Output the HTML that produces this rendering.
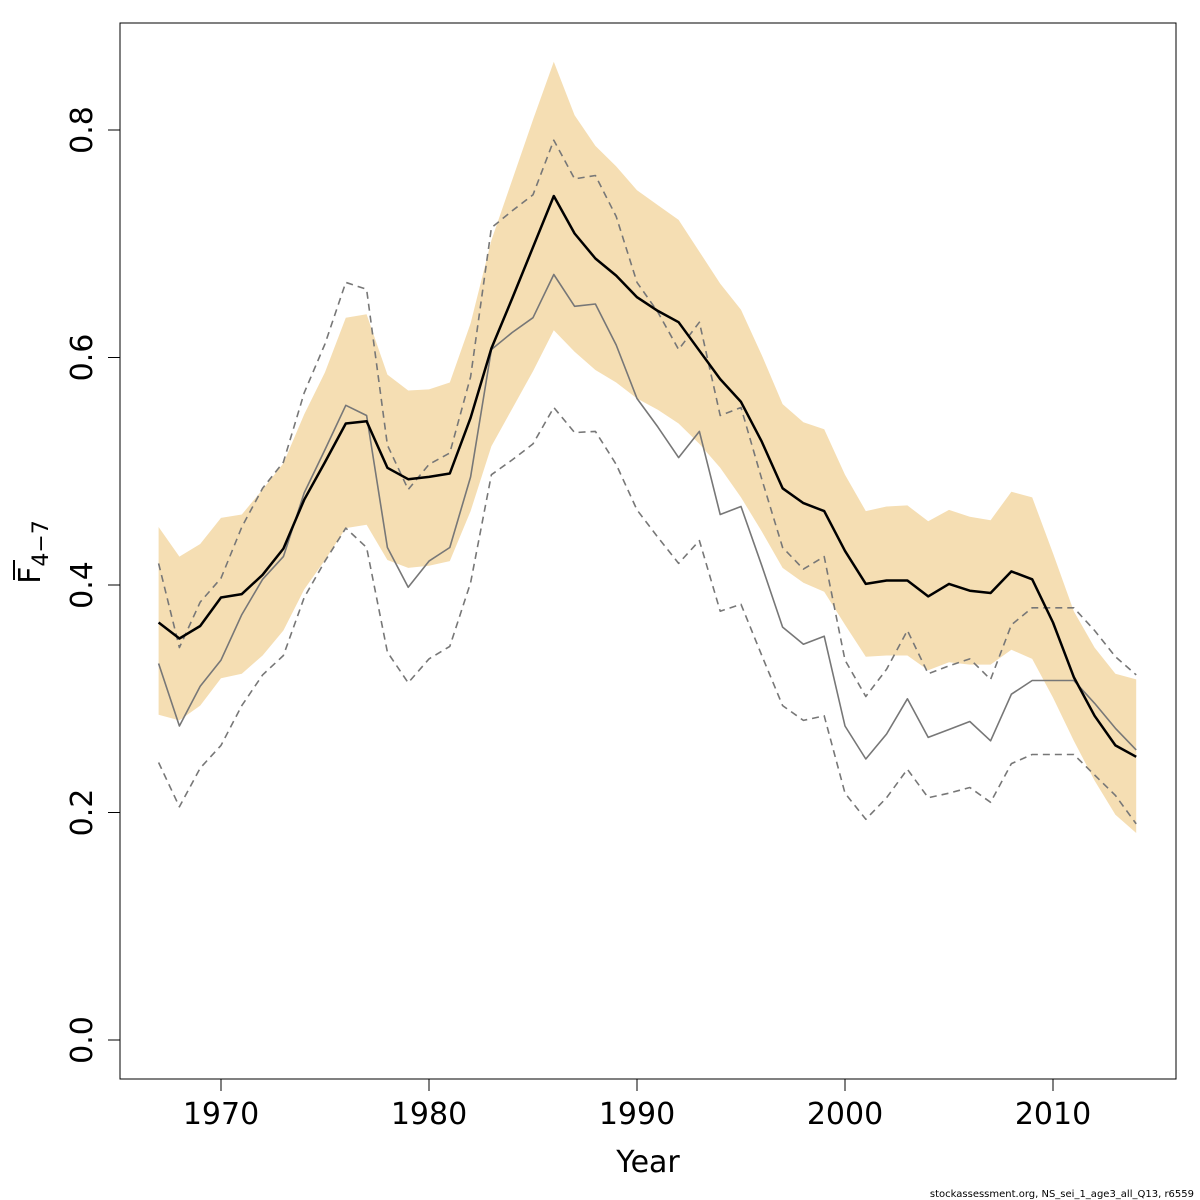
<!DOCTYPE html>
<html><head><meta charset="utf-8">
<style>
html,body{margin:0;padding:0;background:#fff;}
svg{display:block;font-family:"DejaVu Sans","Liberation Sans",sans-serif;}
</style></head>
<body>
<svg id="chart" width="1200" height="1200" viewBox="0 0 1200 1200" xmlns="http://www.w3.org/2000/svg">
<rect x="120" y="23" width="1056" height="1056" fill="none" stroke="#000" stroke-width="1"/>
<g id="band"></g>
<g id="lines"></g>
<g id="axes"></g>
<text x="648" y="1172" font-size="30" text-anchor="middle">Year</text>
<g transform="translate(40,552) rotate(-90)">
<text x="0" y="0" font-size="30" text-anchor="middle">F<tspan font-size="22" dy="8">4−7</tspan></text>
<line x1="-28" y1="-26" x2="-8" y2="-26" stroke="#000" stroke-width="2"/>
</g>
<text x="1194" y="1197" font-size="10" text-anchor="end">stockassessment.org, NS_sei_1_age3_all_Q13, r6559</text>
</svg>
<script>
const years = [];
for (let y = 1967; y <= 2014; y++) years.push(y);
const fbar = [0.367,0.353,0.364,0.389,0.392,0.409,0.432,0.475,0.508,0.542,0.544,0.503,0.493,0.495,0.498,0.547,0.608,0.652,0.697,0.742,0.709,0.687,0.672,0.653,0.641,0.631,0.606,0.581,0.561,0.526,0.485,0.472,0.465,0.430,0.401,0.404,0.404,0.390,0.401,0.395,0.393,0.412,0.405,0.367,0.319,0.285,0.259,0.249];
const bandHigh = [0.451,0.425,0.436,0.459,0.462,0.484,0.507,0.550,0.587,0.635,0.638,0.585,0.571,0.572,0.578,0.630,0.703,0.756,0.809,0.860,0.813,0.786,0.768,0.747,0.734,0.721,0.693,0.665,0.642,0.602,0.559,0.543,0.537,0.497,0.465,0.469,0.470,0.456,0.466,0.460,0.457,0.482,0.477,0.428,0.377,0.345,0.322,0.317];
const bandLow = [0.286,0.281,0.294,0.318,0.322,0.338,0.360,0.396,0.422,0.450,0.453,0.422,0.415,0.417,0.421,0.465,0.522,0.555,0.588,0.624,0.605,0.589,0.578,0.564,0.554,0.542,0.524,0.503,0.477,0.447,0.415,0.402,0.394,0.365,0.337,0.338,0.338,0.325,0.332,0.330,0.330,0.343,0.335,0.301,0.263,0.228,0.198,0.182];
const altFbar = [0.331,0.276,0.311,0.334,0.374,0.405,0.425,0.481,0.519,0.558,0.549,0.433,0.398,0.421,0.433,0.495,0.607,0.622,0.635,0.673,0.645,0.647,0.611,0.564,0.539,0.512,0.535,0.462,0.469,0.417,0.363,0.348,0.355,0.276,0.247,0.269,0.300,0.266,0.273,0.280,0.263,0.304,0.316,0.316,0.316,0.296,0.274,0.255];
const altHigh = [0.419,0.345,0.385,0.406,0.451,0.485,0.508,0.569,0.612,0.666,0.660,0.523,0.484,0.506,0.516,0.583,0.714,0.729,0.743,0.791,0.757,0.760,0.724,0.666,0.640,0.607,0.631,0.549,0.556,0.493,0.433,0.414,0.425,0.334,0.302,0.326,0.360,0.322,0.329,0.335,0.317,0.365,0.380,0.380,0.380,0.360,0.337,0.321];
const altLow = [0.244,0.205,0.239,0.259,0.294,0.321,0.338,0.389,0.421,0.450,0.433,0.341,0.314,0.335,0.346,0.402,0.497,0.510,0.524,0.556,0.534,0.535,0.506,0.466,0.442,0.419,0.439,0.377,0.383,0.338,0.294,0.281,0.285,0.217,0.194,0.213,0.238,0.213,0.217,0.222,0.209,0.243,0.251,0.251,0.251,0.233,0.215,0.190];
const xTicks = [1970,1980,1990,2000,2010];
const yTicks = [0.0,0.2,0.4,0.6,0.8];
const yTickLabels = ["0.0","0.2","0.4","0.6","0.8"];

const NS = "http://www.w3.org/2000/svg";
const xs = y => 221 + (y - 1970) * 20.8;
const ys = v => 1040 - v * 1137.5;
function mk(tag, attrs, parent){const e=document.createElementNS(NS,tag);for(const k in attrs)e.setAttribute(k,attrs[k]);parent.appendChild(e);return e;}
const pts = arr => arr.map((v,i)=>xs(years[i]).toFixed(1)+","+ys(v).toFixed(1)).join(" ");

const band = document.getElementById("band");
const bp = pts(bandHigh) + " " + bandLow.map((v,i)=>[years[i],v]).reverse().map(p=>xs(p[0]).toFixed(1)+","+ys(p[1]).toFixed(1)).join(" ");
const poly = mk("polygon",{points:bp,fill:"#f5deb3",stroke:"none"},band);



const lines = document.getElementById("lines");
const defs = [
 [altHigh,"alt-upper-dashed","#777",1.6,"7,5"],
 [altLow,"alt-lower-dashed","#777",1.6,"7,5"],
 [altFbar,"alt-fbar-line","#777",1.6,null],
 [fbar,"fbar-line","#000",2.5,null]
];
defs.forEach(d=>{
  const a={points:pts(d[0]),fill:"none",stroke:d[2],"stroke-width":d[3],"stroke-linejoin":"round"};
  if(d[4]) a["stroke-dasharray"]=d[4];
  const e=mk("polyline",a,lines);
  
  
});

const axes = document.getElementById("axes");
xTicks.forEach(t=>{
  const l=mk("line",{x1:xs(t),x2:xs(t),y1:1079,y2:1091,stroke:"#000"},axes);
  
  
  const tx=mk("text",{x:xs(t),y:1124,"font-size":30,"text-anchor":"middle"},axes);
  
  
  tx.textContent=t;
});
yTicks.forEach((t,i)=>{
  const l=mk("line",{x1:108,x2:120,y1:ys(t),y2:ys(t),stroke:"#000"},axes);
  
  
  const tx=mk("text",{x:0,y:0,"font-size":30,"text-anchor":"middle",transform:"translate(92,"+ys(t)+") rotate(-90)"},axes);
  
  
  tx.textContent=yTickLabels[i];
});
</script>
</body></html>
